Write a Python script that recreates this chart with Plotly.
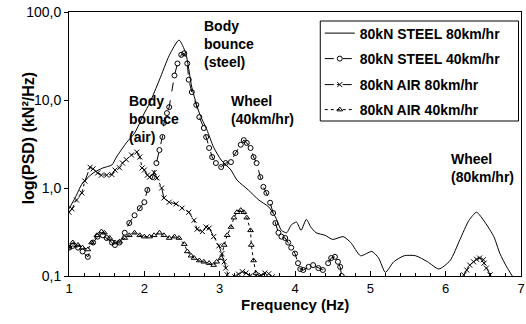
import plotly.graph_objects as go

# ---------------- data ----------------
steel80_f = [1.0, 1.08, 1.18, 1.32, 1.45, 1.57, 1.63, 1.76, 1.87, 1.94, 2.0, 2.07, 2.2, 2.33, 2.46,
             2.55, 2.63, 2.73, 2.83, 2.92, 3.02, 3.15, 3.23, 3.38, 3.52, 3.65, 3.74, 3.82, 3.89,
             3.95, 4.02, 4.08, 4.15, 4.21, 4.28, 4.40, 4.50, 4.64, 4.74, 4.87, 5.02, 5.11, 5.20,
             5.31, 5.45, 5.60, 5.76, 5.91, 6.06, 6.19, 6.31, 6.41, 6.52, 6.64, 6.72, 6.81, 6.90]
steel80_v = [0.58, 0.77, 1.14, 1.48, 1.69, 1.83, 2.25, 3.25, 4.2, 5.5, 7.1, 9.2, 16.9, 32, 48,
             34, 14, 7.1, 4.6, 2.9, 2.08, 1.6, 1.23, 0.95, 0.73, 0.61, 0.47, 0.33, 0.31,
             0.38, 0.41, 0.33, 0.44, 0.36, 0.31, 0.29, 0.26, 0.28, 0.24, 0.17, 0.19, 0.16, 0.11,
             0.145, 0.17, 0.17, 0.145, 0.12, 0.15, 0.26, 0.43, 0.53, 0.41, 0.28, 0.18, 0.127, 0.095]

steel40_f = [1.0, 1.05, 1.12, 1.18, 1.25, 1.32, 1.38, 1.45, 1.5, 1.57, 1.61, 1.67, 1.74, 1.8, 1.87,
             1.94, 2.0, 2.04, 2.11, 2.16, 2.2, 2.24, 2.26, 2.3, 2.33, 2.4, 2.44, 2.49, 2.53, 2.57,
             2.59, 2.63, 2.69, 2.73, 2.79, 2.82, 2.86, 2.9, 2.95, 3.02, 3.08, 3.15, 3.21, 3.28,
             3.32, 3.36, 3.41, 3.45, 3.49, 3.54, 3.58, 3.62, 3.67, 3.71, 3.74, 3.78, 3.82, 3.87,
             3.91, 3.95, 4.0, 4.04, 4.07, 4.11, 4.18, 4.24, 4.31, 4.37, 4.44, 4.48, 4.53, 4.57,
             4.6, 4.62]
steel40_v = [0.21, 0.22, 0.21, 0.19, 0.165, 0.24, 0.28, 0.29, 0.27, 0.24, 0.225, 0.24, 0.31, 0.40, 0.49,
             0.59, 0.69, 0.95, 1.33, 1.92, 2.7, 3.8, 5.5, 7.1, 8.3, 19, 26, 32.6, 34, 26,
             17, 12.3, 8.8, 6.4, 4.8, 3.8, 2.85, 2.25, 1.92, 1.73, 1.92, 1.97, 2.5, 3.1,
             3.5, 3.25, 2.85, 2.25, 1.92, 1.33, 1.03, 0.88, 0.68, 0.52, 0.4, 0.31, 0.28, 0.27,
             0.24, 0.21, 0.18, 0.14, 0.12, 0.117, 0.127, 0.133, 0.123, 0.117, 0.14, 0.16, 0.165, 0.145,
             0.127, 0.1]

air80_f = [1.0, 1.04, 1.1, 1.17, 1.21, 1.28, 1.32, 1.38, 1.43, 1.5, 1.57, 1.61, 1.67, 1.71, 1.76,
           1.83, 1.9, 1.94, 1.97, 2.0, 2.04, 2.07, 2.13, 2.17, 2.23, 2.26, 2.33, 2.42, 2.5, 2.59,
           2.66, 2.7, 2.77, 2.82, 2.86, 2.92, 2.99, 3.03, 3.06, 3.08, 3.1, 3.13, 3.2, 3.25, 3.3,
           3.35, 3.4, 3.45, 3.5, 3.55, 3.6, 3.65, 3.7, None,
           6.24, 6.28, 6.32, 6.37, 6.41, 6.45, 6.5, 6.51, 6.54, 6.59]
air80_v = [0.53, 0.58, 0.73, 0.88, 1.2, 1.72, 1.65, 1.48, 1.4, 1.4, 1.42, 1.6, 1.7, 1.92, 2.1,
           2.37, 2.56, 2.25, 1.69, 1.6, 1.4, 1.33, 1.5, 1.3, 1.0, 0.77, 0.69, 0.66, 0.59, 0.53,
           0.43, 0.34, 0.32, 0.36, 0.35, 0.28, 0.22, 0.18, 0.145, 0.123, 0.103, 0.09, 0.098, 0.105, 0.112,
           0.108, 0.1, 0.095, 0.096, 0.102, 0.108, 0.106, 0.098, None,
           0.103, 0.117, 0.133, 0.145, 0.155, 0.16, 0.153, 0.14, 0.123, 0.103]

air40_f = [1.0, 1.05, 1.12, 1.18, 1.25, 1.3, 1.37, 1.43, 1.47, 1.54, 1.61, 1.67, 1.74, 1.8, 1.87,
           1.94, 2.0, 2.07, 2.13, 2.2, 2.26, 2.33, 2.4, 2.46, 2.53, 2.57, 2.62, 2.66, 2.73, 2.79,
           2.86, 2.92, 2.96, 3.02, 3.06, 3.1, 3.15, 3.19, 3.23, 3.28, 3.32, 3.36, 3.41, 3.42,
           3.45, 3.48, 3.5]
air40_v = [0.21, 0.24, 0.225, 0.21, 0.2, 0.24, 0.29, 0.32, 0.31, 0.27, 0.24, 0.245, 0.27, 0.29, 0.31,
           0.29, 0.28, 0.28, 0.29, 0.31, 0.29, 0.27, 0.28, 0.27, 0.23, 0.19, 0.17, 0.16, 0.15, 0.145,
           0.14, 0.133, 0.145, 0.16, 0.225, 0.29, 0.36, 0.46, 0.53, 0.56, 0.53, 0.46, 0.33, 0.225,
           0.15, 0.108, 0.098]

series_names = ["80kN STEEL 80km/hr", "80kN STEEL 40km/hr", "80kN AIR 80km/hr", "80kN AIR 40km/hr"]
y_tickvals = [0.1, 1, 10, 100]
y_ticktext = ["0,1", "1,0", "10,0", "100,0"]
x_tickvals = [1, 2, 3, 4, 5, 6, 7]

# ---------------- figure ----------------
FONT = "Liberation Sans, Arial, sans-serif"
W, H = 526, 324
ML, MR, MT, MB = 69, 1, 12, 48
pw, ph = W - ML - MR, H - MT - MB

def px_x(x):
    return (x - ML) / pw

def px_y(y):
    return (H - MB - y) / ph

fig = go.Figure()
fig.add_trace(go.Scatter(x=steel80_f, y=steel80_v, name=series_names[0], mode="lines",
                         line=dict(color="black", width=1, shape="spline", smoothing=0.6),
                         legend="legend", showlegend=True))
fig.add_trace(go.Scatter(x=steel40_f, y=steel40_v, name=series_names[1], mode="lines+markers",
                         line=dict(color="black", width=1, dash="dash"),
                         marker=dict(symbol="circle-open", size=5, color="black", line=dict(width=1)),
                         legend="legend2", showlegend=True))
fig.add_trace(go.Scatter(x=air80_f, y=air80_v, name=series_names[2], mode="lines+markers",
                         line=dict(color="black", width=1, dash="dashdot"),
                         marker=dict(symbol="x-thin-open", size=5, color="black", line=dict(width=1)),
                         legend="legend3", showlegend=True))
fig.add_trace(go.Scatter(x=air40_f, y=air40_v, name=series_names[3], mode="lines+markers",
                         line=dict(color="black", width=1, dash="dot"),
                         marker=dict(symbol="triangle-up-open", size=5, color="black", line=dict(width=1)),
                         legend="legend4", showlegend=True))

leg_font = dict(family=FONT, size=14, color="black", weight="bold")
leg_x = px_x(322)
leg_ys = [33.5, 59, 85, 110]
legs = {}
for i, key in enumerate(["legend", "legend2", "legend3", "legend4"]):
    legs[key] = dict(x=leg_x, y=px_y(leg_ys[i]), xanchor="left", yanchor="middle",
                     bgcolor="rgba(0,0,0,0)", borderwidth=0, font=leg_font, visible=True)

annotations = [
    dict(text="Body<br>bounce<br>(air)", x=px_x(128), y=px_y(91), xanchor="left", yanchor="top"),
    dict(text="Body<br>bounce<br>(steel)", x=px_x(203), y=px_y(16), xanchor="left", yanchor="top"),
    dict(text="Wheel<br>(40km/hr)", x=px_x(230), y=px_y(91), xanchor="left", yanchor="top"),
    dict(text="Wheel<br>(80km/hr)", x=px_x(452), y=px_y(149), xanchor="left", yanchor="top"),
]
for a in annotations:
    a.update(xref="paper", yref="paper", showarrow=False, align="left",
             font=dict(family=FONT, size=14, color="black", weight="bold"))
annotations.append(dict(text="Frequency (Hz)", x=0.5, y=px_y(304), xref="paper", yref="paper",
                        showarrow=False, xanchor="center", yanchor="middle",
                        font=dict(family=FONT, size=15, color="black", weight="bold")))
annotations.append(dict(text="log(PSD) (kN²/Hz)", x=px_x(28), y=px_y(138), xref="paper", yref="paper",
                        showarrow=False, xanchor="center", yanchor="middle", textangle=-90,
                        font=dict(family=FONT, size=16, color="black", weight="bold")))

fig.update_layout(
    width=W, height=H, margin=dict(l=ML, r=MR, t=MT, b=MB),
    paper_bgcolor="white", plot_bgcolor="white", showlegend=True,
    font=dict(family=FONT, size=14, color="black"),
    annotations=annotations,
    shapes=[dict(type="rect", xref="paper", yref="paper",
                 x0=px_x(322.5), x1=px_x(522.5), y0=px_y(121), y1=px_y(21),
                 line=dict(color="black", width=1), fillcolor="rgba(0,0,0,0)")],
    **legs,
)
# main x axis: ticks crossing the axis line (inside part here, outside part on an overlay axis)
fig.update_xaxes(range=[1, 7], tickvals=x_tickvals, showgrid=False, zeroline=False,
                 showline=True, linecolor="black", linewidth=1, mirror=True,
                 ticks="inside", ticklen=5, tickcolor="black", ticklabeloverflow="allow",
                 minor=dict(dtick=0.2, ticks="inside", ticklen=3, tickcolor="black", showgrid=False),
                 tickfont=dict(family=FONT, size=13, color="black"))
fig.update_layout(xaxis2=dict(overlaying="x", matches="x", anchor="y", side="bottom",
                              range=[1, 7], tickvals=x_tickvals, showticklabels=False,
                              showgrid=False, zeroline=False, showline=False,
                              ticks="outside", ticklen=2, tickcolor="black",
                              minor=dict(dtick=0.2, ticks="outside", ticklen=2, tickcolor="black",
                                         showgrid=False)))
fig.update_yaxes(type="log", range=[-1, 2], tickvals=y_tickvals, ticktext=y_ticktext,
                 showgrid=False, zeroline=False,
                 showline=True, linecolor="black", linewidth=1, mirror=True,
                 ticks="outside", ticklen=4, tickcolor="black",
                 tickfont=dict(family=FONT, size=14, color="black"))

fig.write_html("out.html")
